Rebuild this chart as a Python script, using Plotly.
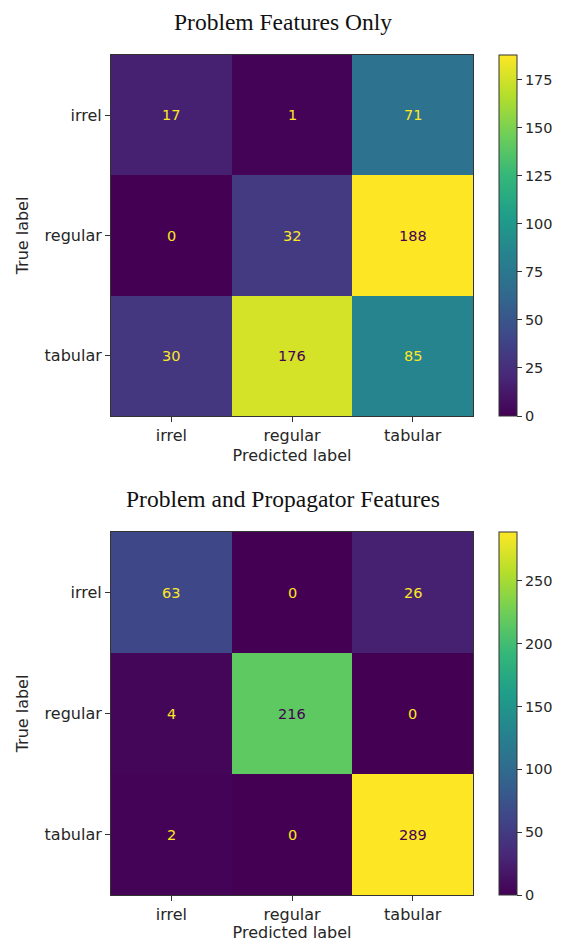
import plotly.graph_objects as go

labels = ["irrel", "regular", "tabular"]
titles = ["Problem Features Only", "Problem and Propagator Features"]
cm_problem = [[17, 1, 71], [0, 32, 188], [30, 176, 85]]
cm_prop = [[63, 0, 26], [4, 216, 0], [2, 0, 289]]
cbar_ticks_top = [0, 25, 50, 75, 100, 125, 150, 175]
cbar_ticks_bot = [0, 50, 100, 150, 200, 250]

# page body has an 8px margin, so the figure is 16px smaller than the window
OFF = 8
W, H = 565 - 2 * OFF, 950 - 2 * OFF
DARK = "#440154"
YEL = "#fde725"
TXT = "#262626"
tickfont = dict(family="DejaVu Sans", size=16, color=TXT)
cbfont = dict(family="DejaVu Sans", size=14.5, color=TXT)


def px(x):
    return (x - OFF) / W


def py(y):
    return 1 - (y - OFF) / H


# pixel geometry (window coordinates)
x0, x1 = 111, 473
panels = [(55, 416), (532, 895)]
cb_x = 499

fig = go.Figure()
annotations = []
for i, (cm, title, ticks, (ytop, ybot)) in enumerate(
        zip([cm_problem, cm_prop], titles, [cbar_ticks_top, cbar_ticks_bot], panels)):
    n = i + 1
    xa = "x" if n == 1 else f"x{n}"
    ya = "y" if n == 1 else f"y{n}"
    ca = "coloraxis" if n == 1 else f"coloraxis{n}"
    fig.add_trace(go.Heatmap(z=cm, x=labels, y=labels, xaxis=xa, yaxis=ya,
                             coloraxis=ca, xgap=0, ygap=0, hoverinfo="z"))
    zmax = max(max(r) for r in cm)
    zmin = min(min(r) for r in cm)
    thresh = (zmax + zmin) / 2
    for r, row in enumerate(cm):
        for c, v in enumerate(row):
            annotations.append(dict(x=labels[c], y=labels[r], xref=xa, yref=ya,
                                    text=str(v), showarrow=False,
                                    font=dict(family="DejaVu Sans", size=14.5,
                                              color=DARK if v >= thresh else YEL)))
    ydom = [py(ybot), py(ytop)]
    axis_common = dict(showline=True, mirror=True, linecolor="#333333", linewidth=1,
                       ticks="outside", ticklen=5, tickcolor="#333333",
                       tickfont=tickfont, showgrid=False, zeroline=False,
                       fixedrange=True)
    fig.update_layout(**{
        ("xaxis" if n == 1 else f"xaxis{n}"): dict(
            domain=[px(x0), px(x1)], anchor=ya, **axis_common,
            title=dict(text="Predicted label", font=tickfont, standoff=5)),
        ("yaxis" if n == 1 else f"yaxis{n}"): dict(
            domain=ydom, anchor=xa, autorange="reversed", **axis_common,
            title=dict(text="True label", font=tickfont, standoff=11)),
        ca: dict(cmin=zmin, cmax=zmax, colorscale="Viridis",
                 colorbar=dict(x=px(cb_x), xanchor="left", y=sum(ydom) / 2,
                               yanchor="middle", len=(ybot - ytop) / H,
                               lenmode="fraction", thickness=18,
                               outlinewidth=1, outlinecolor="#333333",
                               ticks="outside", ticklen=5, tickcolor="#333333",
                               tickvals=ticks, tickfont=cbfont, xpad=0, ypad=0)),
    })
    annotations.append(dict(x=px(565 / 2), y=py(ytop - 33), xref="paper", yref="paper",
                            text=title, showarrow=False, xanchor="center",
                            yanchor="middle", borderpad=0,
                            font=dict(family="Liberation Serif", size=23.5, color="#111111")))

fig.update_layout(width=W, height=H, margin=dict(l=0, r=0, t=0, b=0),
                  paper_bgcolor="white", plot_bgcolor="white",
                  annotations=annotations, showlegend=False)
fig.write_html("out.html")
